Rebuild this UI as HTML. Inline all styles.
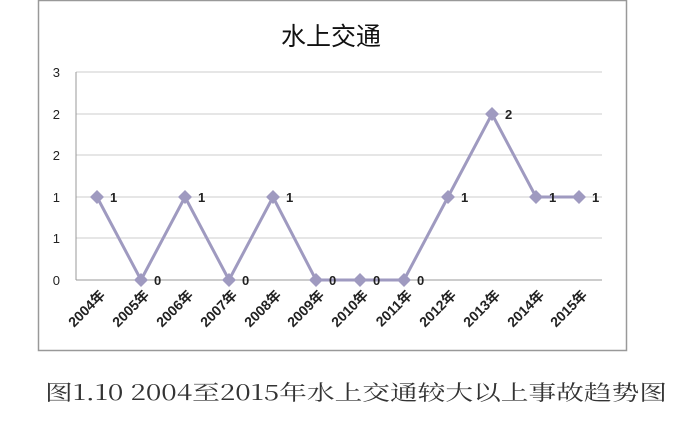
<!DOCTYPE html><html><head><meta charset="utf-8"><style>body{margin:0;background:#fff;width:677px;height:418px;overflow:hidden}</style></head><body>
<svg width="677" height="418" xmlns="http://www.w3.org/2000/svg" font-family="Liberation Sans, Noto Sans CJK SC, sans-serif">
<rect x="38.5" y="0.5" width="588" height="350" fill="#fff" stroke="#999" stroke-width="1.5"/>
<text x="331" y="45" font-size="25" text-anchor="middle" fill="#111">水上交通</text>
<g stroke="#ccc" stroke-width="1">
<line x1="76" y1="72" x2="602" y2="72"/><line x1="76" y1="114" x2="602" y2="114"/><line x1="76" y1="155" x2="602" y2="155"/><line x1="76" y1="197" x2="602" y2="197"/><line x1="76" y1="238" x2="602" y2="238"/>
</g>
<line x1="76" y1="72" x2="76" y2="280" stroke="#999"/>
<line x1="76" y1="280" x2="602" y2="280" stroke="#999"/>
<g font-size="13" fill="#222" text-anchor="end">
<text x="60" y="77">3</text><text x="60" y="119">2</text><text x="60" y="160">2</text><text x="60" y="202">1</text><text x="60" y="243">1</text><text x="60" y="285">0</text>
</g>
<polyline fill="none" stroke="#9f9ac0" stroke-width="3" points="97,197 141,280 185,197 229,280 273,197 316,280 360,280 404,280 448,197 492,114 536,197 579,197"/>
<g fill="#9f9ac0">
<path d="M97 190l7 7-7 7-7-7z"/><path d="M141 273l7 7-7 7-7-7z"/><path d="M185 190l7 7-7 7-7-7z"/><path d="M229 273l7 7-7 7-7-7z"/><path d="M273 190l7 7-7 7-7-7z"/><path d="M316 273l7 7-7 7-7-7z"/><path d="M360 273l7 7-7 7-7-7z"/><path d="M404 273l7 7-7 7-7-7z"/><path d="M448 190l7 7-7 7-7-7z"/><path d="M492 107l7 7-7 7-7-7z"/><path d="M536 190l7 7-7 7-7-7z"/><path d="M579 190l7 7-7 7-7-7z"/>
</g>
<g font-size="13" fill="#222" font-weight="bold">
<text x="110" y="202">1</text><text x="154" y="285">0</text><text x="198" y="202">1</text><text x="242" y="285">0</text><text x="286" y="202">1</text><text x="329" y="285">0</text><text x="373" y="285">0</text><text x="417" y="285">0</text><text x="461" y="202">1</text><text x="505" y="119">2</text><text x="549" y="202">1</text><text x="592" y="202">1</text>
</g>
<g font-size="14" fill="#222" text-anchor="end" font-weight="bold">
<text transform="translate(106,296) rotate(-45)">2004年</text><text transform="translate(150,296) rotate(-45)">2005年</text><text transform="translate(194,296) rotate(-45)">2006年</text><text transform="translate(238,296) rotate(-45)">2007年</text><text transform="translate(282,296) rotate(-45)">2008年</text><text transform="translate(325,296) rotate(-45)">2009年</text><text transform="translate(369,296) rotate(-45)">2010年</text><text transform="translate(413,296) rotate(-45)">2011年</text><text transform="translate(457,296) rotate(-45)">2012年</text><text transform="translate(501,296) rotate(-45)">2013年</text><text transform="translate(545,296) rotate(-45)">2014年</text><text transform="translate(588,296) rotate(-45)">2015年</text>
</g>
<text x="45" y="400" font-size="21" fill="#333" textLength="622" lengthAdjust="spacingAndGlyphs" font-family="Noto Serif CJK SC, serif">图1.10 2004至2015年水上交通较大以上事故趋势图</text>
</svg>
</body></html>
